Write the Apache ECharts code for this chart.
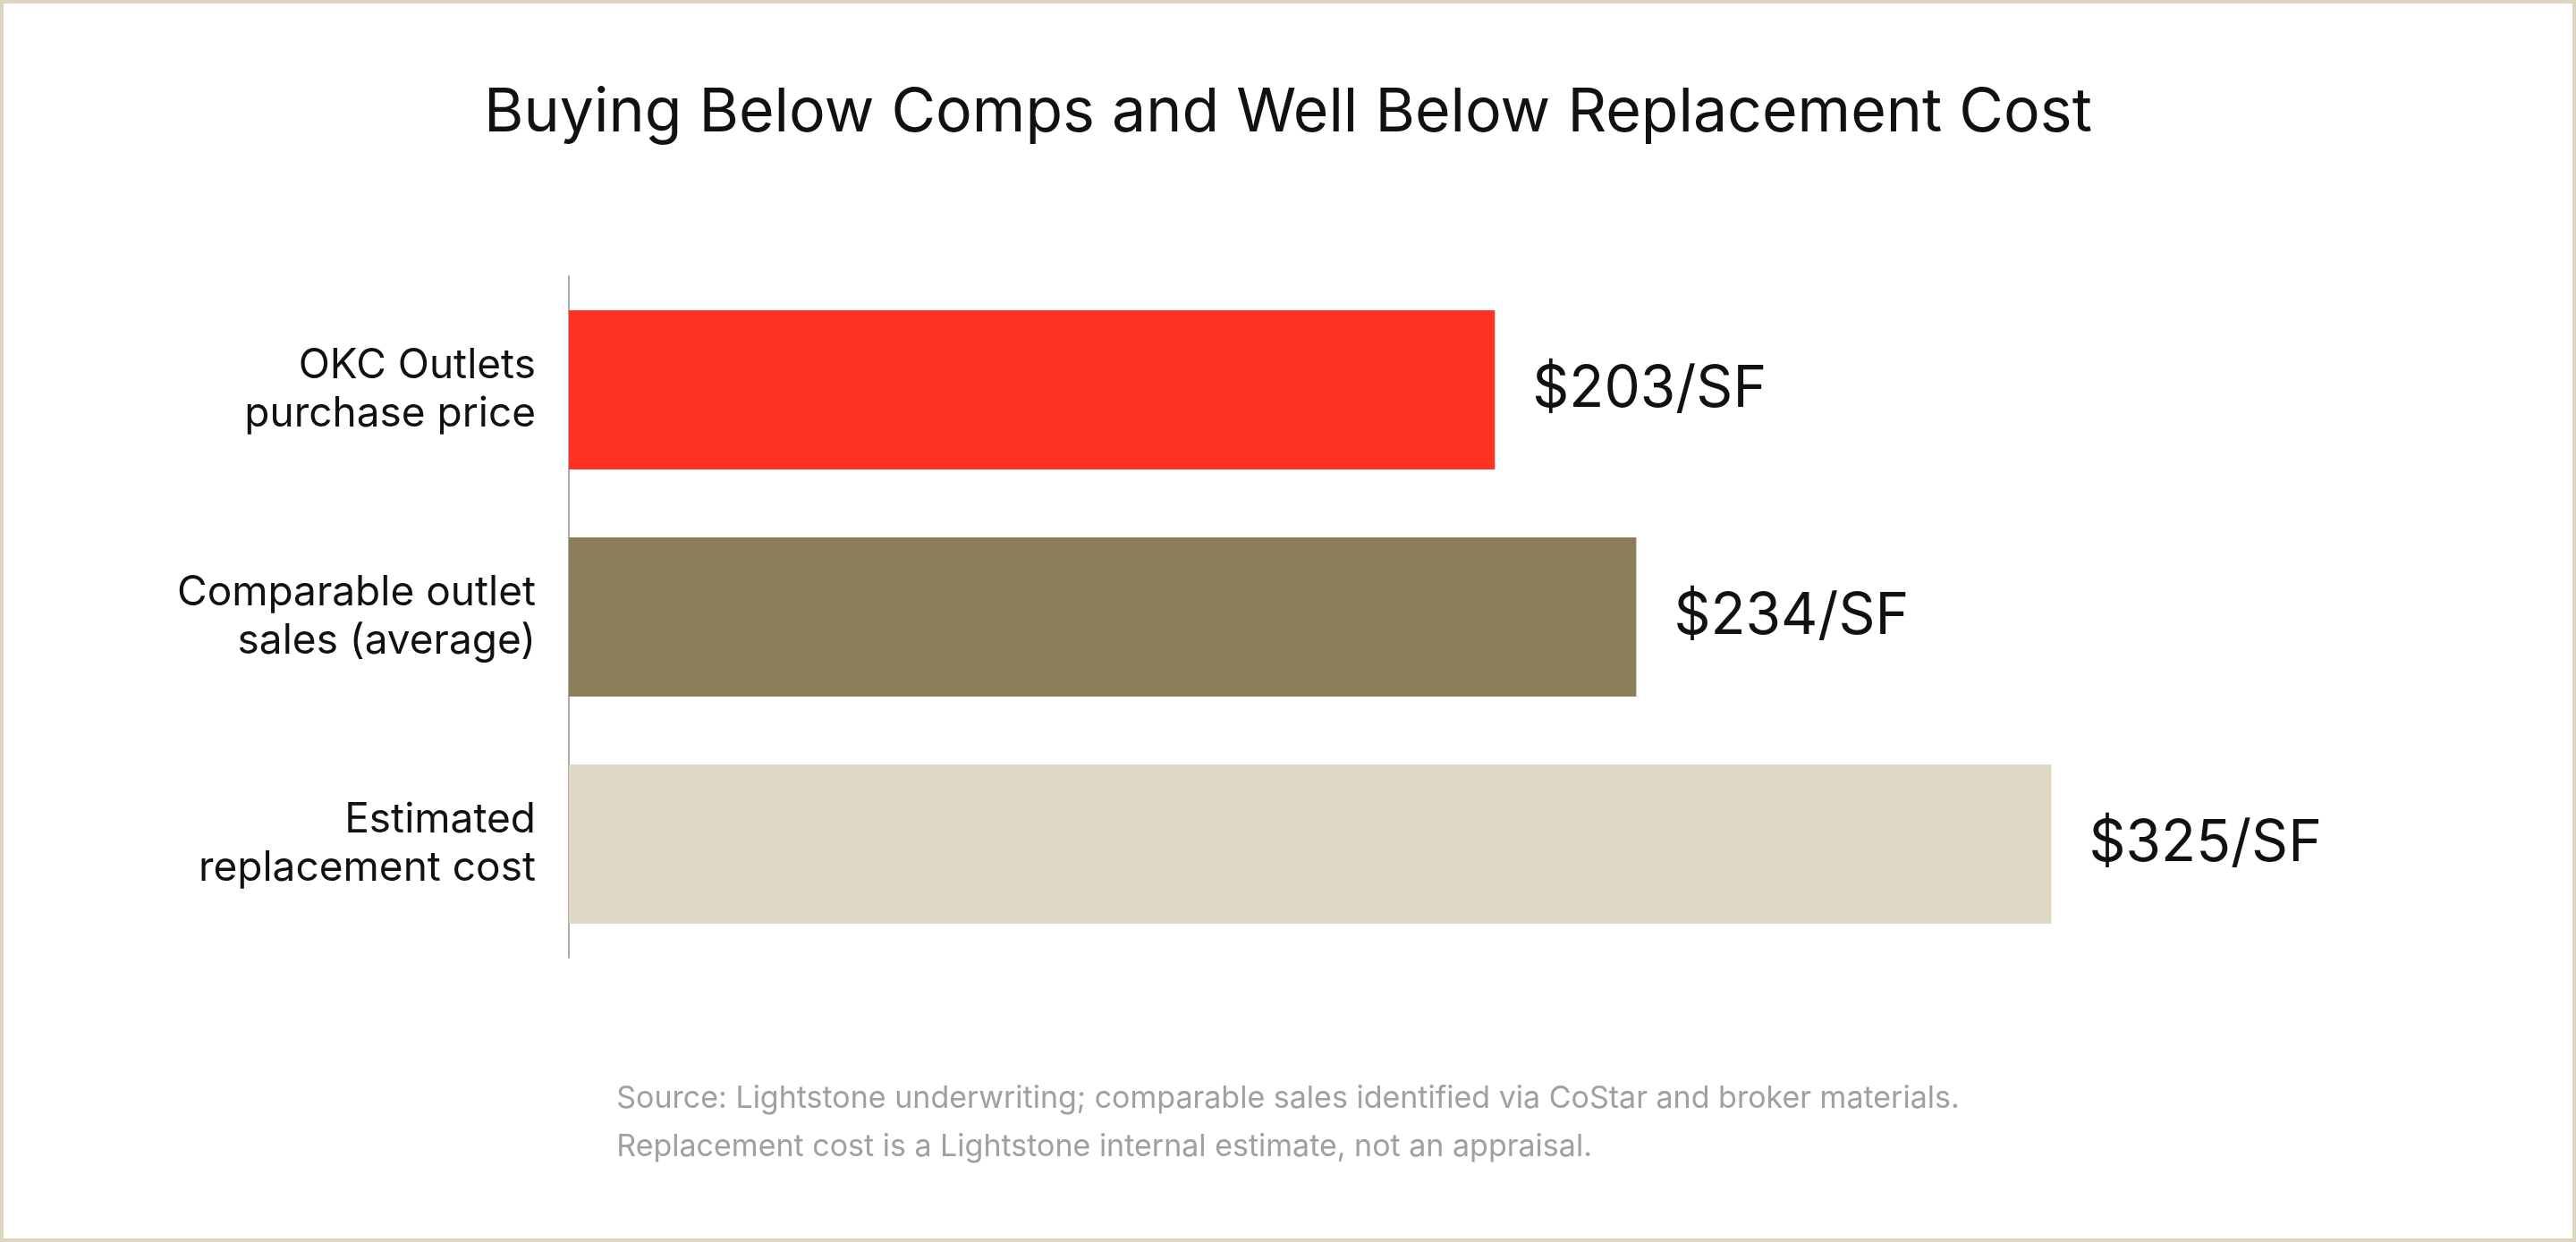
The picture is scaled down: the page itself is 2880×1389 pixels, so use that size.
<!DOCTYPE html>
<html>
<head>
<meta charset="utf-8">
<script src="https://cdn.jsdelivr.net/npm/echarts@6/dist/echarts.min.js"></script>
<style>
html,body{margin:0;padding:0;background:#fff;}
#chart{width:2880px;height:1389px;}
</style>
</head>
<body>
<div id="chart"></div>
<script>
var categories = ['OKC Outlets\npurchase price', 'Comparable outlet\nsales (average)', 'Estimated\nreplacement cost'];
var values = [203, 234, 325];
var barColors = ['#ff3322', '#8b7d5a', '#ddd7c4'];

var chart = echarts.init(document.getElementById('chart'));
var option = {
    backgroundColor: '#fff',
    textStyle: {fontFamily: 'Inter'},
    title: {
        text: 'Buying Below Comps and Well Below Replacement Cost',
        left: 'center',
        top: 88,
        textStyle: {fontFamily: 'Inter', fontSize: 68, fontWeight: 'normal', color: '#111'}
    },
    graphic: [
        {type: 'rect', shape: {x: 2, y: 2, width: 2876, height: 1385},
         style: {fill: 'none', stroke: '#dcd6c0', lineWidth: 4}, silent: true},
        {type: 'text', left: 'center', top: 1202,
         style: {text: 'Source: Lightstone underwriting; comparable sales identified via CoStar and broker materials.\nReplacement cost is a Lightstone internal estimate, not an appraisal.',
                 fill: '#a0a0a0', fontSize: 34, fontFamily: 'Inter', align: 'center', lineHeight: 54}}
    ],
    grid: {left: 636, right: 204, top: 309, bottom: 318},
    xAxis: {
        type: 'value', min: 0, max: 400, show: false
    },
    yAxis: {
        type: 'category',
        inverse: true,
        data: categories,
        axisTick: {show: false},
        axisLine: {show: true, lineStyle: {color: '#aaaaaa', width: 2}},
        axisLabel: {fontSize: 46, color: '#111', lineHeight: 54, margin: 37, align: 'right'}
    },
    series: [{
        type: 'bar',
        barWidth: 178,
        data: values.map(function (v, i) {
            return {value: v, itemStyle: {color: barColors[i]}};
        }),
        label: {
            show: true,
            position: 'right',
            distance: 42,
            fontSize: 64,
            color: '#111',
            formatter: function (p) { return '$' + p.value + '/SF'; }
        }
    }]
};
chart.setOption(option);
</script>
</body>
</html>
